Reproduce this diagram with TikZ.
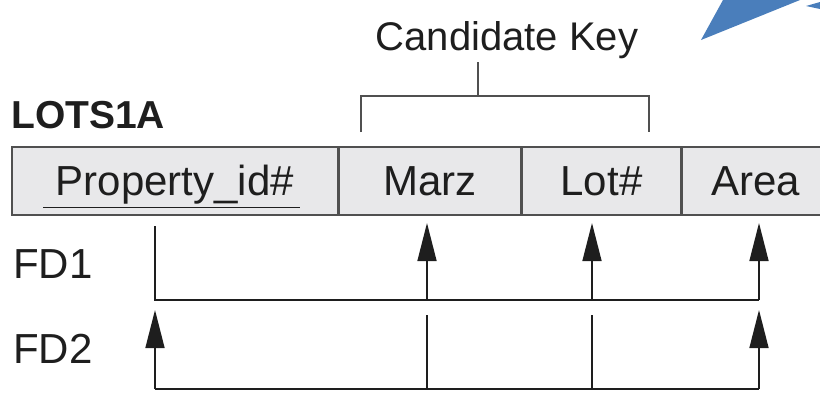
\documentclass[tikz,border=0pt]{standalone}
\usepackage{fontspec}
\setmainfont{Liberation Sans}
\usepackage{xcolor}
\usetikzlibrary{arrows.meta,positioning,calc}

\definecolor{cellgray}{RGB}{232,232,234}
\definecolor{rulegray}{RGB}{80,80,80}
\definecolor{inkblack}{RGB}{30,30,30}
\definecolor{pointerblue}{RGB}{74,126,187}

\begin{document}
\begin{tikzpicture}[
    x=1pt, y=-1pt,
    cell/.style={rectangle, draw=rulegray, fill=cellgray, line width=1.6pt, minimum height=68pt, inner sep=0pt, text height=30pt, text depth=0pt, font=\fontsize{42}{50}\selectfont, text=inkblack},
    label/.style={font=\fontsize{42}{50}\selectfont, text=inkblack, inner sep=0pt, anchor=base west},
    fdline/.style={line width=1.5pt, draw=inkblack},
    fdarrow/.style={fdline, -{Triangle[length=38pt,width=19pt]}},
    keyline/.style={line width=1.8pt, draw=rulegray}
]
    \useasboundingbox (0,0) rectangle (820,392);

    % pointer from the slide, cut at the edge
    \fill[pointerblue] (701,40) -- (723,0) -- (800,0) -- cycle;
    \fill[pointerblue] (806,6) -- (820,2) -- (820,9) -- cycle;

    \node[label, font=\bfseries\fontsize{39}{46}\selectfont] (rel) at (11,128) {LOTS1A};
    \node[label, anchor=base, font=\fontsize{40}{48}\selectfont] (ck) at (507,50) {Candidate Key};

    \node[cell, minimum width=326pt, anchor=north west] (pid) at (11,146) {Property\_id\#};
    \node[cell, minimum width=181pt, right=0pt of pid] (marz) {Marz};
    \node[cell, minimum width=159pt, right=0pt of marz] (lot) {Lot\#};
    \node[cell, minimum width=146pt, right=0pt of lot] (area) {Area};
    \draw[fdline] ($(pid.south west)+(32,-8)$) -- ($(pid.south west)+(289,-8)$);

    % candidate key bracket
    \coordinate (cktop) at (478,62);
    \coordinate (ckleft) at (361,132);
    \coordinate (ckright) at (649,132);
    \draw[keyline] (cktop) -- (cktop |- 0,96);
    \draw[keyline] (ckleft) |- (ckright |- 0,96) -- (ckright);

    \node[label] (fd1) at (13,278) {FD1};
    \node[label] (fd2) at (13,363) {FD2};

    % FD1
    \coordinate (fd1pid) at (155,226);
    \coordinate (fd1marz) at (427,223);
    \coordinate (fd1lot) at (592,223);
    \coordinate (fd1area) at (759,223);
    \coordinate (fd1bus) at (155,300);
    \draw[fdline] (fd1pid) -- (fd1bus) -- (fd1bus -| fd1area);
    \foreach \t in {marz,lot,area} \draw[fdarrow] (fd1bus -| fd1\t) -- (fd1\t);

    % FD2
    \coordinate (fd2pid) at (155,310);
    \coordinate (fd2marz) at (427,315);
    \coordinate (fd2lot) at (592,315);
    \coordinate (fd2area) at (759,310);
    \coordinate (fd2bus) at (155,389);
    \draw[fdline] (fd2bus) -- (fd2bus -| fd2area);
    \foreach \t in {pid,area} \draw[fdarrow] (fd2bus -| fd2\t) -- (fd2\t);
    \foreach \t in {marz,lot} \draw[fdline] (fd2\t) -- (fd2bus -| fd2\t);
\end{tikzpicture}
\end{document}
